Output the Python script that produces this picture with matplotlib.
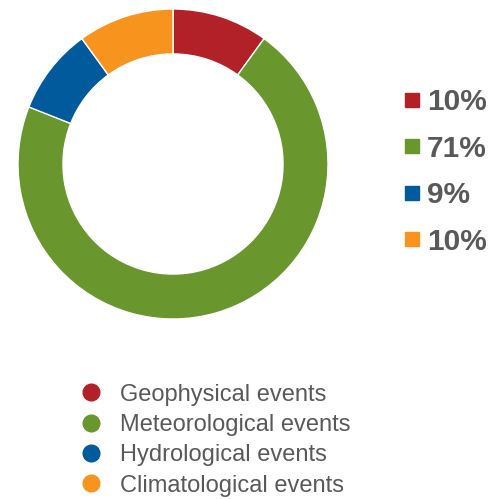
import matplotlib
matplotlib.use("Agg")
import matplotlib.pyplot as plt
from matplotlib.lines import Line2D

plt.rcParams['font.family'] = ['Liberation Sans', 'DejaVu Sans']

# data
categories = ['Geophysical events', 'Meteorological events',
              'Hydrological events', 'Climatological events']
shares = [10, 71, 9, 10]
pct_labels = ['10%', '71%', '9%', '10%']
colors = ['#B22028', '#6A962E', '#005A9C', '#F7941D']

fig = plt.figure(figsize=(4.91, 4.99), dpi=100)

# donut
ax = fig.add_axes([18 / 491, 180 / 499, 310 / 491, 310 / 499])
ax.pie(shares, colors=colors, startangle=90, counterclock=False, radius=1,
       wedgeprops=dict(width=0.29, edgecolor='white', linewidth=1))
ax.set_xlim(-1, 1)
ax.set_ylim(-1, 1)
ax.set_aspect('equal')

text_grey = '#595959'

# percent legend on the right
sq = [Line2D([], [], marker='s', linestyle='none', markersize=10,
             markerfacecolor=c, markeredgecolor=c) for c in colors]
leg1 = fig.legend(sq, pct_labels, loc='center left',
                  bbox_to_anchor=(405 / 491, 0.655), frameon=False,
                  borderpad=0, borderaxespad=0, handlelength=0.5,
                  handletextpad=0.24, labelspacing=0.62,
                  prop={'size': 21.5, 'weight': 'bold'})
for t in leg1.get_texts():
    t.set_color(text_grey)

# category legend at the bottom
dots = [Line2D([], [], marker='o', linestyle='none', markersize=12,
               markerfacecolor=c, markeredgecolor=c) for c in colors]
leg2 = fig.legend(dots, categories, loc='center left',
                  bbox_to_anchor=(82 / 491, 0.118), frameon=False,
                  borderpad=0, borderaxespad=0, handlelength=0.75,
                  handletextpad=0.85, labelspacing=0.35,
                  prop={'size': 17})
for t in leg2.get_texts():
    t.set_color(text_grey)

fig.savefig('out.png', dpi=100)
